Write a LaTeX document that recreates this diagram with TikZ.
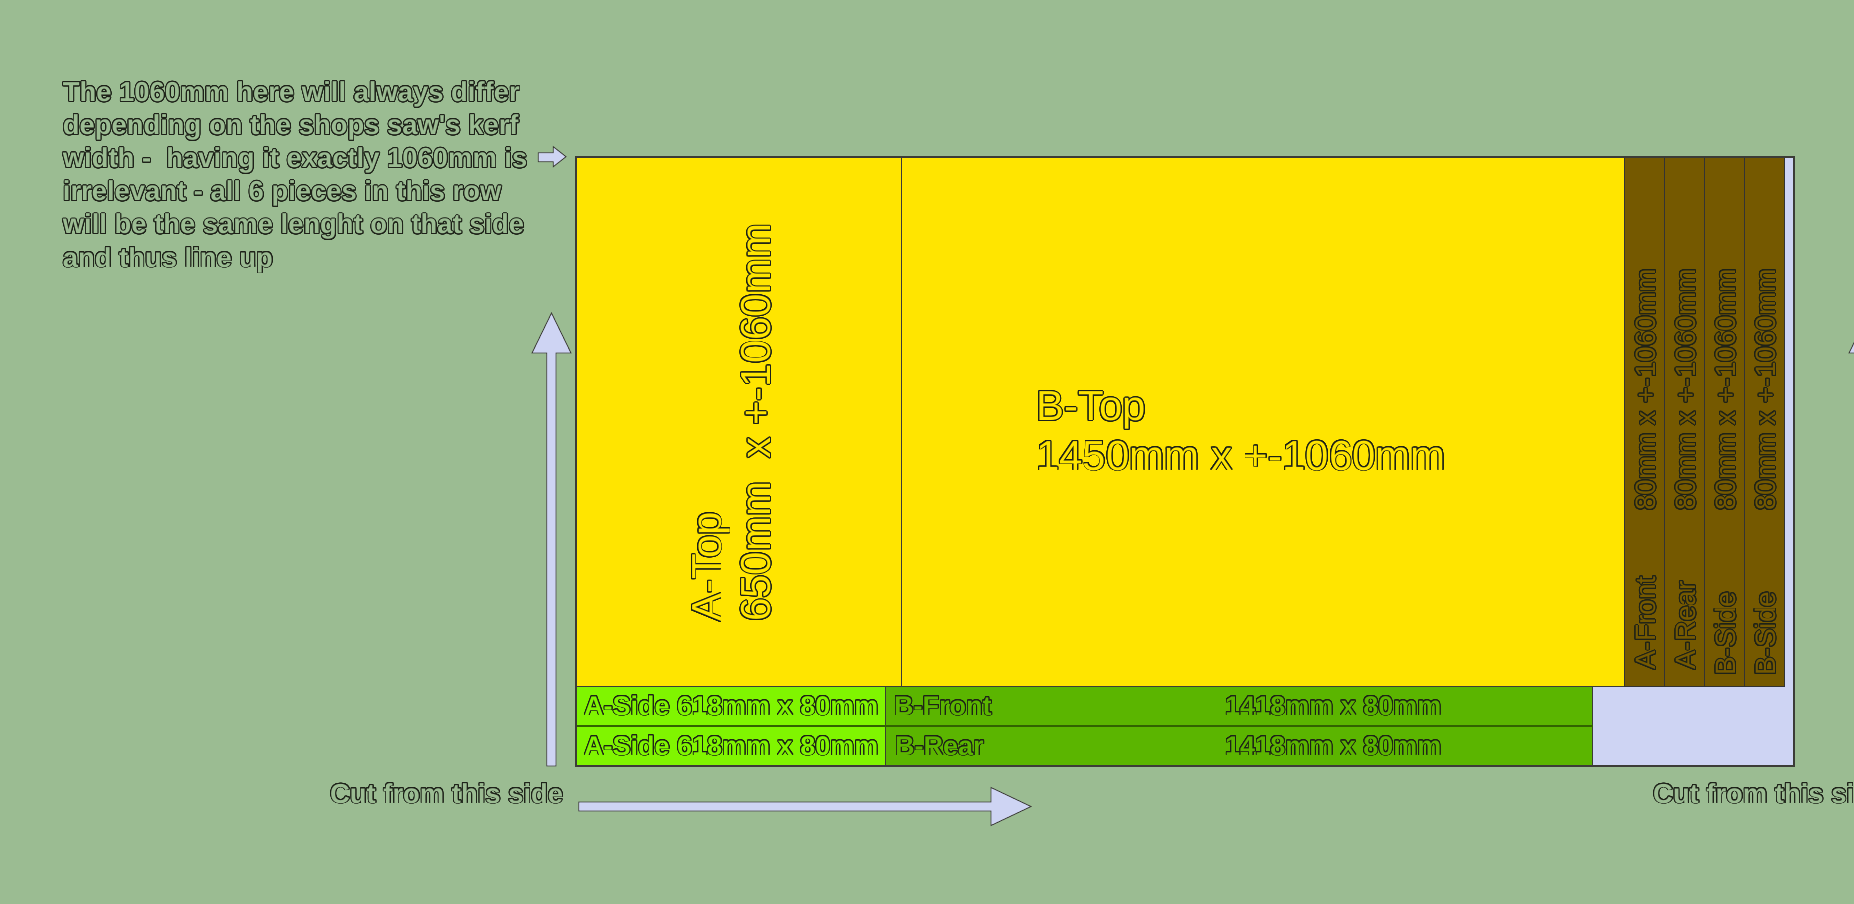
\documentclass[tikz,border=0pt]{standalone}
\usepackage{fontspec}
\setmainfont{Liberation Sans}
\usepackage[copies]{contour}
\contourlength{0.9pt}
\contournumber{24}
\definecolor{bgcol}{RGB}{155,188,146}
\definecolor{topyellow}{RGB}{255,229,0}
\definecolor{stripbrown}{RGB}{117,89,0}
\definecolor{sidegreen}{RGB}{128,245,0}
\definecolor{longgreen}{RGB}{91,181,0}
\definecolor{sheetlav}{RGB}{206,212,243}
\definecolor{edgecol}{RGB}{60,60,55}
\definecolor{txtedge}{RGB}{30,34,25}
% outlined text: edge copies, then the fill colour on top
\newcommand{\olt}[2]{\contour{txtedge}{\textcolor{#1}{#2}}}
\begin{document}
\begin{tikzpicture}[x=1pt,y=-1pt,
  piece/.style={draw=edgecol,line width=0.9pt},
  blockarrow/.style={draw=edgecol,fill=sheetlav,line width=0.8pt,line join=miter},
  lbl/.style={inner sep=0pt,anchor=base west},
  notefont/.style={font=\fontsize{27.4}{33}\selectfont\bfseries},
  bigfont/.style={font=\fontsize{42}{50}\selectfont},
  stripfont/.style={font=\fontsize{28}{33}\selectfont},
  rowfont/.style={font=\fontsize{27}{33}\selectfont\bfseries}]
\useasboundingbox (0,0) rectangle (1854,904);
\fill[bgcol] (0,0) rectangle (1854,904);
\clip (0,0) rectangle (1854,904);

% the sheet
\fill[sheetlav] (576,157) rectangle (1794,766);
\draw[piece,fill=topyellow] (576,157) rectangle (901,686);
\draw[piece,fill=topyellow] (901,157) rectangle (1624.5,686);
\foreach \xa/\nm/\ya [count=\k] in {1624.5/A-Front/670,1664.5/A-Rear/670,1704.5/B-Side/676,1744.3/B-Side/676} {
  \draw[piece,draw=black!80,fill=stripbrown] (\xa,157) rectangle ++(40,529);
  \node[lbl,rotate=90,stripfont] (strip\k) at (\xa+31,\ya) {\olt{stripbrown}{\nm}};
  \node[lbl,rotate=90,stripfont] (dim\k) at (\xa+31,511) {\olt{stripbrown}{80mm x +-1060mm}};
}
\draw[piece,fill=sidegreen] (576,686) rectangle (885,726);
\draw[piece,fill=sidegreen] (576,726) rectangle (885,766);
\draw[piece,fill=longgreen] (885,686) rectangle (1592.5,726);
\draw[piece,fill=longgreen] (885,726) rectangle (1592.5,766);
\draw[longgreen!55!black,line width=1.6pt] (576,726) -- (1592.5,726);
\draw[edgecol,line width=2pt] (576,157) rectangle (1794,766);

% piece labels
\node[lbl,rotate=90,bigfont] (atop) at (721,622) {\olt{topyellow}{A-Top}};
\node[lbl,rotate=90,bigfont] (atopdim) at (770.5,622) {\olt{topyellow}{650mm~~x +-1060mm}};
\node[lbl,bigfont] (btop) at (1036,420.7) {\olt{topyellow}{B-Top}};
\node[lbl,bigfont] (btopdim) at (1036,470) {\olt{topyellow}{1450mm x +-1060mm}};
\node[lbl,rowfont] (aside1) at (584,715) {\olt{sidegreen}{A-Side 618mm x 80mm}};
\node[lbl,rowfont] (aside2) at (584,755) {\olt{sidegreen}{A-Side 618mm x 80mm}};
\node[lbl,rowfont] (bfront) at (894,715) {\olt{longgreen}{B-Front}};
\node[lbl,rowfont] (brear) at (895,755) {\olt{longgreen}{B-Rear}};
\node[lbl,rowfont] (bfrontdim) at (1225,715) {\olt{longgreen}{1418mm x 80mm}};
\node[lbl,rowfont] (breardim) at (1225,755) {\olt{longgreen}{1418mm x 80mm}};

% note and cut marks
\foreach \ln [count=\k from 0] in {The 1060mm here will always differ,
  depending on the shops saw\textquotesingle s kerf,
  width -~ having it exactly 1060mm is,
  irrelevant - all 6 pieces in this row,
  will be the same lenght on that side,
  and thus line up}
  \node[lbl,notefont] (note\k) at (62.7,101.5+33.1*\k) {\olt{bgcol}{\ln}};
\node[lbl,notefont] (cutleft) at (330,803) {\olt{bgcol}{Cut from this side}};
\node[lbl,notefont] (cutright) at (1653,803) {\olt{bgcol}{Cut from this side}};

% block arrows
\draw[blockarrow] (538.3,152.7) -- (553.3,152.7) -- (553.3,146.7) -- (566,156.7)
  -- (553.3,166.7) -- (553.3,161.7) -- (538.3,161.7) -- cycle;
\draw[blockarrow] (546.7,766) -- (546.7,353) -- (532,353) -- (551.5,313)
  -- (571,353) -- (556,353) -- (556,766) -- cycle;
\draw[blockarrow] (1863.5,766) -- (1863.5,353) -- (1849,353) -- (1868.5,313)
  -- (1888,353) -- (1873,353) -- (1873,766) -- cycle;
\draw[blockarrow] (578.7,802) -- (991,802) -- (991,787.5) -- (1031,806.5)
  -- (991,825.5) -- (991,811) -- (578.7,811) -- cycle;
\end{tikzpicture}
\end{document}
